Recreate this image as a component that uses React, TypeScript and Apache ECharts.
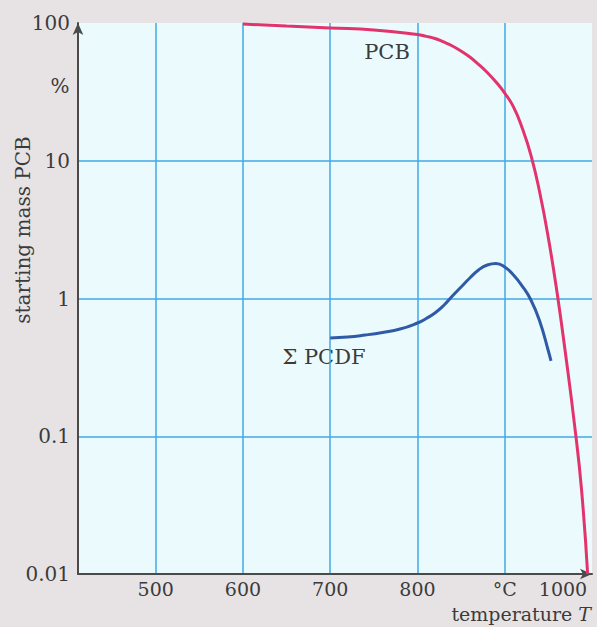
import React, { useEffect, useRef } from "react";
import * as echarts from "echarts";

// ---- data ----
const pcbTemps = [600, 650, 700, 750, 800, 810, 820, 830, 840, 850, 860, 870, 880, 890, 900, 910, 920, 930, 940, 950, 960, 970, 980, 988, 995];
const pcbValues = [98.3, 95, 92, 89, 82.5, 80, 77.2, 72.8, 68.1, 62.6, 56.6, 50, 43.7, 37.3, 31, 24.6, 17.3, 11, 5.93, 2.75, 1.1, 0.382, 0.121, 0.041, 0.01];

const pcdfTemps = [700, 720, 740, 760, 780, 800, 810, 820, 830, 840, 850, 860, 870, 880, 890, 900, 910, 920, 930, 940, 950, 953];
const pcdfValues = [0.517, 0.525, 0.543, 0.567, 0.6, 0.664, 0.716, 0.785, 0.89, 1.043, 1.212, 1.409, 1.61, 1.751, 1.795, 1.693, 1.481, 1.232, 0.975, 0.687, 0.416, 0.352];

const xTickValues = [500, 600, 700, 800, 900, 1000];
const xTickLabels = ["500", "600", "700", "800", "°C", "1000"];
const yTickExponents = [-2, -1, 0, 1, 2];
const yTickLabels = ["0.01", "0.1", "1", "10", "100"];

const FONT = "DejaVu Serif";
const TEXT = "#3b3b3b";

export default function App() {
  const ref = useRef<HTMLDivElement>(null);
  useEffect(() => {
    if (!ref.current) return;
    const chart = echarts.init(ref.current, undefined, { renderer: "svg" });
    const option: any = {
      animation: false,
      backgroundColor: "#e7e3e5",
      grid: {
        left: 78,
        top: 23,
        right: 5,
        bottom: 53,
        show: true,
        backgroundColor: "#ebfafd",
        borderWidth: 0,
        containLabel: false,
        outerBoundsMode: "none",
      },
      xAxis: {
        type: "value",
        min: 411,
        max: 1000,
        splitNumber: 6,
        axisLine: {
          show: true,
          symbol: ["none", "arrow"],
          symbolSize: [8, 12],
          lineStyle: { color: "#4a4a4a", width: 2 },
        },
        axisTick: { show: false },
        splitLine: {
          show: true,
          showMinLine: false,
          showMaxLine: false,
          lineStyle: { color: "#40aae3", width: 1.5 },
        },
        axisLabel: {
          showMinLabel: false,
          showMaxLabel: true,
          hideOverlap: false,
          margin: 6,
          fontFamily: FONT,
          fontSize: 19,
          lineHeight: 17,
          color: TEXT,
          formatter: (v: number) => {
            const i = xTickValues.indexOf(Math.round(v));
            if (i < 0) return "";
            if (xTickValues[i] === 1000) return "{r|" + xTickLabels[i] + "}";
            return xTickLabels[i];
          },
          rich: {
            r: { padding: [0, 58, 0, 0], fontFamily: FONT, fontSize: 19, lineHeight: 17, color: TEXT },
          },
        },
      },
      yAxis: {
        type: "log",
        logBase: 10,
        min: 0.01,
        max: 100,
        axisLine: {
          show: true,
          symbol: ["none", "arrow"],
          symbolSize: [8, 12],
          lineStyle: { color: "#4a4a4a", width: 2 },
        },
        axisTick: { show: false },
        splitLine: {
          show: true,
          showMinLine: false,
          showMaxLine: false,
          lineStyle: { color: "#40aae3", width: 1.5 },
        },
        axisLabel: {
          margin: 8,
          fontFamily: FONT,
          fontSize: 20,
          color: TEXT,
          formatter: (v: number) => {
            const e = Math.round(Math.log10(v));
            const i = yTickExponents.indexOf(e);
            return i < 0 ? "" : yTickLabels[i];
          },
        },
      },
      series: [
        {
          name: "PCB",
          type: "line",
          smooth: 0.5,
          symbol: "none",
          lineStyle: { color: "#e3336c", width: 3 },
          data: pcbTemps.map((t, i) => [t, pcbValues[i]]),
        },
        {
          name: "Σ PCDF",
          type: "line",
          smooth: 0.5,
          symbol: "none",
          lineStyle: { color: "#2f5aa5", width: 3 },
          data: pcdfTemps.map((t, i) => [t, pcdfValues[i]]),
        },
      ],
      graphic: [
        {
          type: "text",
          x: 60,
          y: 86,
          style: { text: "%", fontFamily: FONT, fontSize: 20, fill: TEXT, align: "center", verticalAlign: "middle" },
        },
        {
          type: "text",
          x: 387,
          y: 52,
          style: { text: "PCB", fontFamily: FONT, fontSize: 21, fill: TEXT, align: "center", verticalAlign: "middle" },
        },
        {
          type: "text",
          x: 324,
          y: 357,
          style: { text: "Σ PCDF", fontFamily: FONT, fontSize: 21, fill: TEXT, align: "center", verticalAlign: "middle" },
        },
        {
          type: "text",
          x: 23,
          y: 230,
          rotation: Math.PI / 2,
          style: {
            text: "starting mass PCB",
            fontFamily: FONT,
            fontSize: 20,
            fill: TEXT,
            align: "center",
            verticalAlign: "middle",
          },
        },
        {
          type: "text",
          x: 591,
          y: 614,
          style: {
            text: "{n|temperature }{i|T}",
            align: "right",
            verticalAlign: "middle",
            rich: {
              n: { fontFamily: FONT, fontSize: 19, lineHeight: 17, fill: TEXT, color: TEXT },
              i: { fontFamily: FONT, fontSize: 19, lineHeight: 17, fontStyle: "italic", fill: TEXT, color: TEXT },
            },
          },
        },
      ],
    };
    chart.setOption(option);
    return () => chart.dispose();
  }, []);
  return (
    <div
      ref={ref}
      style={{ position: "absolute", left: 0, top: 0, width: 597, height: 627 }}
    />
  );
}
